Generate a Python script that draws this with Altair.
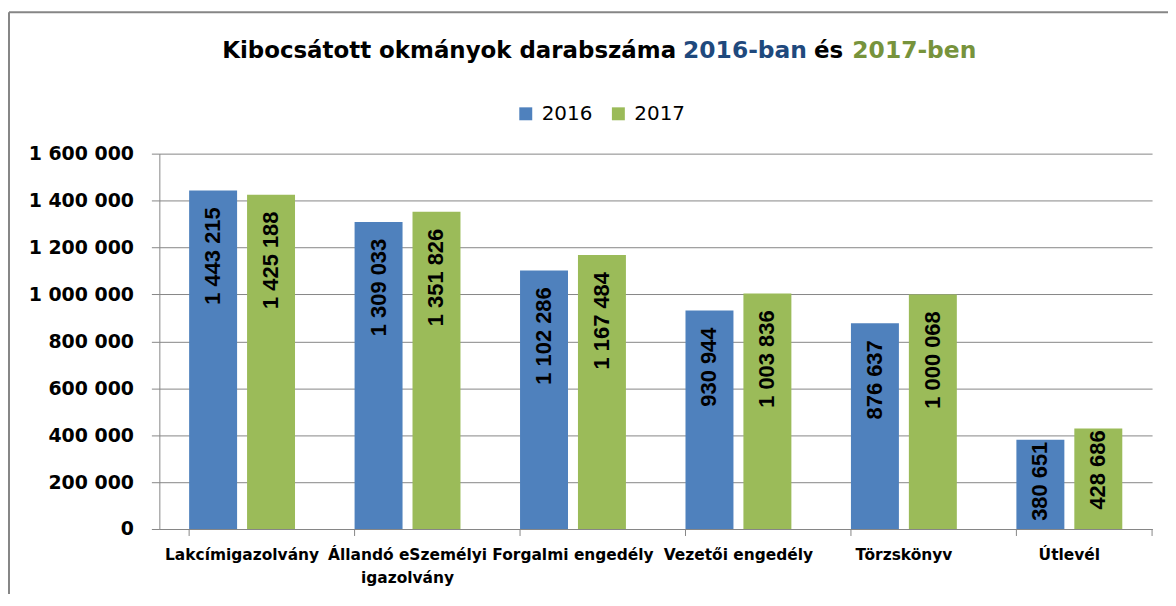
import altair as alt
import pandas as pd

categories = ["Lakcímigazolvány", "Állandó eSzemélyi igazolvány", "Forgalmi engedély",
              "Vezetői engedély", "Törzskönyv", "Útlevél"]
years = ["2016", "2017"]
values_2016 = [1443215, 1309033, 1102286, 930944, 876637, 380651]
values_2017 = [1425188, 1351826, 1167484, 1003836, 1000068, 428686]
y_ticks = [0, 200000, 400000, 600000, 800000, 1000000, 1200000, 1400000, 1600000]
bar_colors = ["#4F81BD", "#9BBB59"]
title_parts = ["Kibocsátott okmányok darabszáma", "2016-ban", "és", "2017-ben"]
title_colors = ["#000000", "#1F497D", "#000000", "#77933C"]

rows = []
for c, a, b in zip(categories, values_2016, values_2017):
    rows.append({"cat": c, "year": years[0], "value": a})
    rows.append({"cat": c, "year": years[1], "value": b})
df = pd.DataFrame(rows)

W, H = 997, 377
GRAY = "#868686"
LBL_FONT = "DejaVu Sans"

x_enc = alt.X(
    "cat:N", sort=categories,
    scale=alt.Scale(paddingInner=0.36, paddingOuter=0.18),
    axis=alt.Axis(
        title=None, labelAngle=0, ticks=False, domainColor=GRAY, domainWidth=1,
        labelFont=LBL_FONT, labelFontWeight="bold", labelFontSize=15.5, labelColor="#000000",
        labelPadding=19, labelLimit=400, labelOverlap=False, labelLineHeight=23,
        labelExpr="datum.label == 'Állandó eSzemélyi igazolvány' ? ['Állandó eSzemélyi', 'igazolvány'] : datum.label",
    ),
)
y_enc = alt.Y(
    "value:Q",
    scale=alt.Scale(domain=[0, 1600000], nice=False),
    axis=alt.Axis(
        title=None, values=y_ticks, format=",d", grid=True, gridColor=GRAY, gridWidth=1,
        domainColor=GRAY, tickColor=GRAY, tickSize=8, labelPadding=18,
        labelFont=LBL_FONT, labelFontWeight="bold", labelFontSize=19, labelColor="#000000",
    ),
)
color_enc = alt.Color(
    "year:N", scale=alt.Scale(domain=years, range=bar_colors),
    legend=alt.Legend(
        title=None, orient="none", legendX=358, legendY=-50, direction="horizontal",
        symbolType="square", symbolSize=169, symbolStrokeWidth=0, symbolOpacity=1,
        labelFont=LBL_FONT, labelFontSize=20, labelColor="#000000", columnPadding=16,
        labelOffset=6,
    ),
)
xoff = alt.XOffset("year:N", sort=years, scale=alt.Scale(paddingInner=0.172, paddingOuter=0))

base = alt.Chart(df)

bars = base.mark_bar().encode(x=x_enc, y=y_enc, color=color_enc, xOffset=xoff)

lbl_common = dict(angle=270, align="right", baseline="middle", font="Liberation Sans",
                  fontWeight="bold", fontSize=22, color="#000000")
labels_tall = base.transform_filter("datum.value > 600000").mark_text(dx=-17, **lbl_common).encode(
    x=alt.X("cat:N", sort=categories), y="value:Q", xOffset=xoff,
    text=alt.Text("value:Q", format=",d"))
labels_short = base.transform_filter("datum.value <= 600000").mark_text(dx=-2, **lbl_common).encode(
    x=alt.X("cat:N", sort=categories), y="value:Q", xOffset=xoff,
    text=alt.Text("value:Q", format=",d"))

# category boundary ticks on x axis
tick_df = base.transform_filter(f"datum.year == '{years[0]}'")
xticks = tick_df.mark_rule(color=GRAY, strokeWidth=1).encode(
    x=alt.X("cat:N", sort=categories, bandPosition=0), y=alt.value(H), y2=alt.value(H + 7))
xtick_end = alt.Chart(pd.DataFrame({"k": [0]})).mark_rule(color=GRAY, strokeWidth=1).encode(
    x=alt.value(W), y=alt.value(H), y2=alt.value(H + 7))

# outer frame
one = pd.DataFrame({"k": [0]})
frame_left = alt.Chart(one).mark_rule(color=GRAY, strokeWidth=2).encode(
    x=alt.value(-151), y=alt.value(-142), y2=alt.value(460))
frame_top = alt.Chart(one).mark_rule(color=GRAY, strokeWidth=2).encode(
    x=alt.value(-151), x2=alt.value(W + 20), y=alt.value(-142))

# title pieces
title_layers = []
title_x = [519, 526, 672, 696]
title_align = ["right", "left", "center", "left"]
title_size = [23, 23.5, 23, 23.5]
for part, col, xx, al, fs in zip(title_parts, title_colors, title_x, title_align, title_size):
    title_layers.append(
        alt.Chart(pd.DataFrame({"t": [part]})).mark_text(
            font=LBL_FONT, fontWeight="bold", fontSize=fs, color=col, align=al, baseline="middle"
        ).encode(x=alt.value(xx), y=alt.value(-103), text="t:N")
    )

chart = alt.layer(
    bars, labels_tall, labels_short, xticks, xtick_end, frame_left, frame_top, *title_layers
).properties(
    width=W, height=H, autosize="none",
    padding={"left": 152, "top": 145, "right": 16, "bottom": 64},
).configure(
    locale={"number": {"decimal": ",", "thousands": " ", "grouping": [3], "currency": ["", ""]}}
).configure_view(stroke=None)

chart.save("out.html", embed_options={"renderer": "svg", "actions": False})
